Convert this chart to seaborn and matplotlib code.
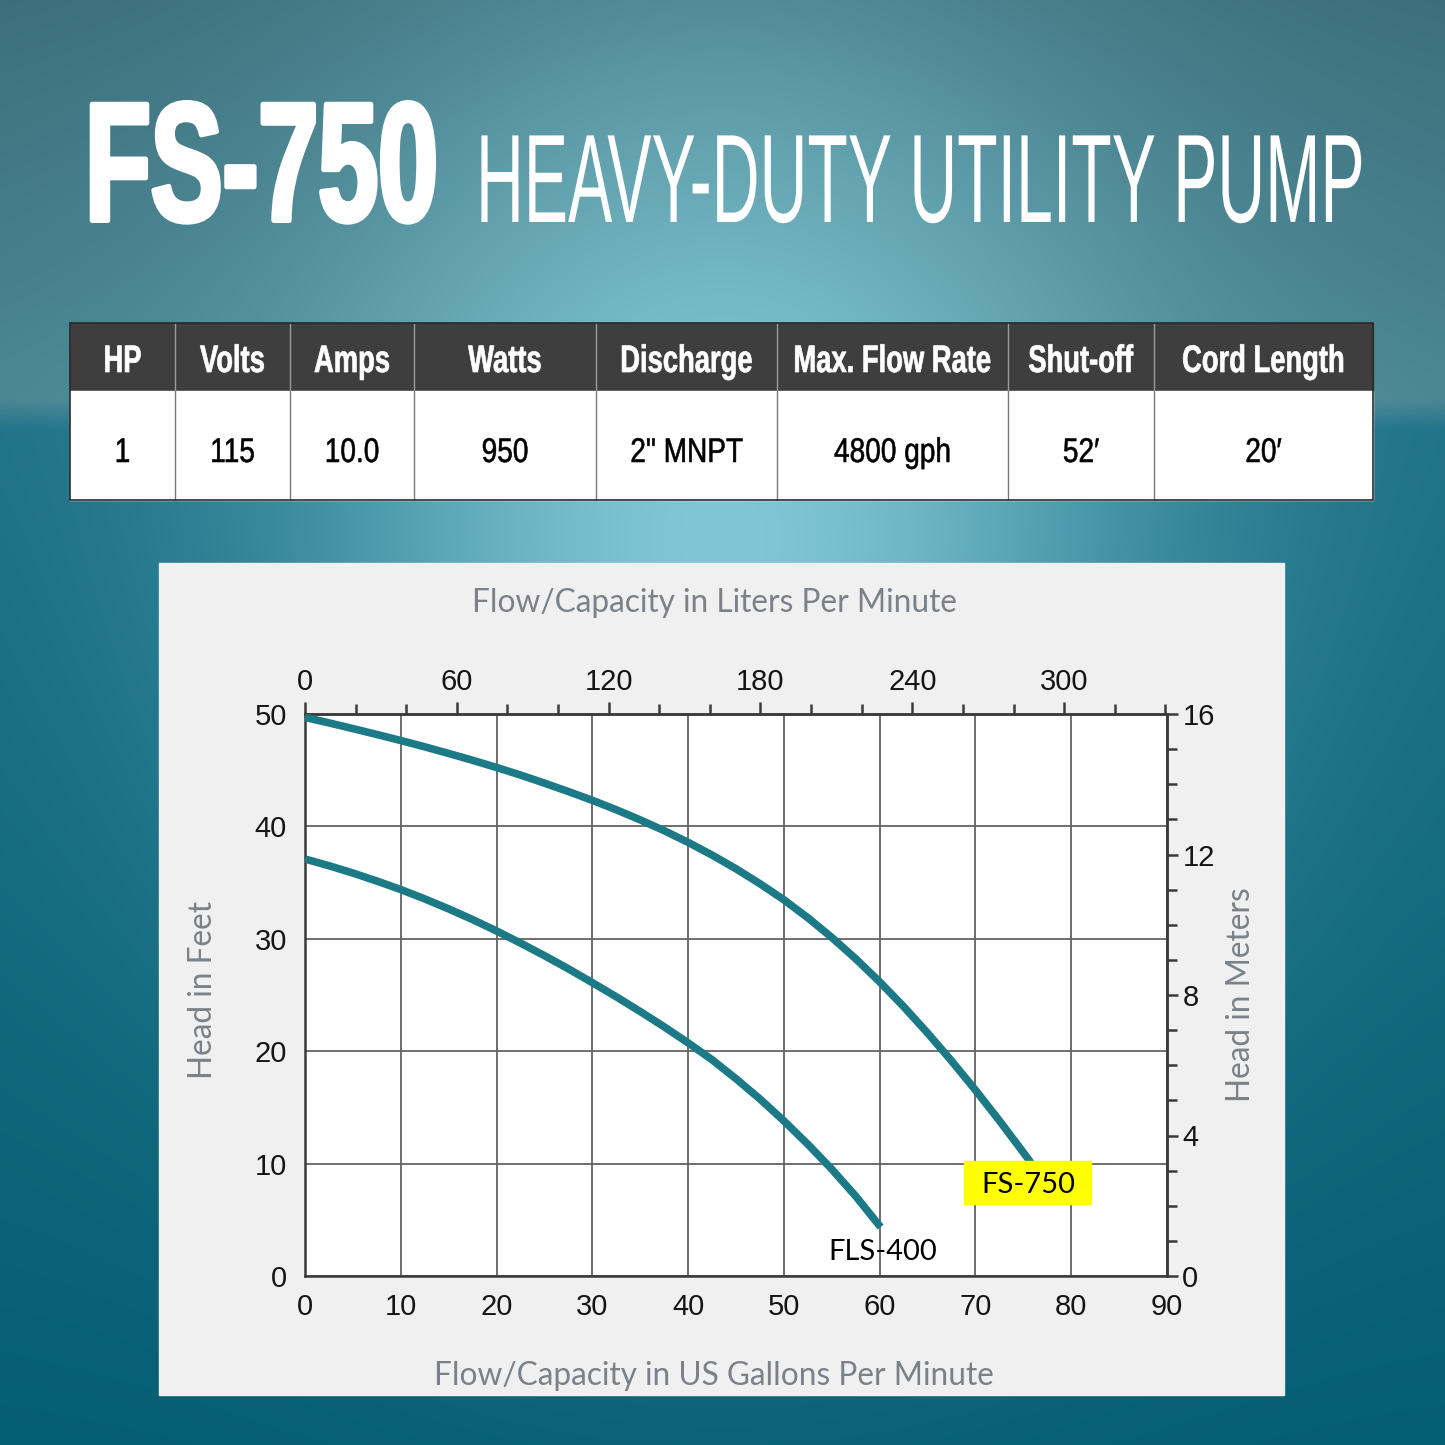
import numpy as np
import pandas as pd
import matplotlib
matplotlib.use("Agg")
import matplotlib.pyplot as plt
import matplotlib.patheffects as pe
from matplotlib.patches import Rectangle
from matplotlib.transforms import Affine2D
from matplotlib.ticker import MultipleLocator
import seaborn as sns

# --------------------------------------------------------------
# Data
# --------------------------------------------------------------
spec_headers = ["HP", "Volts", "Amps", "Watts", "Discharge", "Max. Flow Rate", "Shut-off", "Cord Length"]
spec_values = ["1", "115", "10.0", "950", '2" MNPT', "4800 gph", "52\u2032", "20\u2032"]

# pump curves (US gpm vs head in feet)
gpm_fs750 = [0, 2.5, 5, 7.5, 10, 12.5, 15, 17.5, 20, 22.5, 25, 27.5, 30, 32.5, 35, 37.5,
             40, 42.5, 45, 47.5, 50, 52.5, 55, 57.5, 60, 62.5, 65, 67.5, 70, 72.5, 75, 75.8]
head_fs750 = [49.7, 49.21, 48.70, 48.18, 47.64, 47.08, 46.49, 45.88, 45.24, 44.57, 43.85, 43.10,
              42.32, 41.48, 40.58, 39.62, 38.58, 37.45, 36.23, 34.90, 33.47, 31.87, 30.12, 28.22,
              26.17, 23.97, 21.62, 19.14, 16.54, 13.82, 10.99, 10.07]

gpm_fls400 = [0, 2.5, 5, 7.5, 10, 12.5, 15, 17.5, 20, 22.5, 25, 27.5, 30, 32.5, 35, 37.5,
              40, 42.5, 45, 47.5, 50, 52.5, 55, 57.5, 60.1]
head_fls400 = [37.1, 36.50, 35.85, 35.14, 34.38, 33.55, 32.66, 31.71, 30.70, 29.62, 28.50, 27.33,
               26.10, 24.84, 23.53, 22.17, 20.74, 19.24, 17.55, 15.75, 13.8, 11.72, 9.5, 7.1, 4.35]

gpm_ticks = list(range(0, 91, 10))
feet_ticks = list(range(0, 51, 10))
lpm_ticks = [0, 60, 120, 180, 240, 300]
meter_ticks = [0, 4, 8, 12, 16]

TEAL = "#1b7a86"
GRAY_TXT = "#7c8187"
SANS = ["Liberation Sans", "DejaVu Sans"]
HUMAN = ["Lato", "DejaVu Sans"]


class Stretch(pe.AbstractPathEffect):
    """Scale text glyphs about their baseline (condensed look), optional bolder stroke."""

    def __init__(self, sx=1.0, sy=1.0, anchor="center", stroke=0):
        super().__init__()
        self.sx, self.sy, self.anchor, self.stroke = sx, sy, anchor, stroke

    def draw_path(self, renderer, gc, tpath, affine, rgbFace=None):
        ext = tpath.transformed(affine).get_extents()
        x0 = ext.x0 if self.anchor == "left" else 0.5 * (ext.x0 + ext.x1)
        yb = affine.transform([[0.0, 0.0]])[0][1]
        aff = affine + Affine2D().translate(-x0, -yb).scale(self.sx, self.sy).translate(x0, yb)
        gc0 = renderer.new_gc()
        gc0.copy_properties(gc)
        if self.stroke:
            gc0.set_linewidth(self.stroke)
            gc0.set_foreground(rgbFace)
            gc0.set_joinstyle("round")
        renderer.draw_path(gc0, tpath, aff, rgbFace)
        gc0.restore()


sns.set_style("white")
plt.rcParams["font.family"] = SANS

W = H = 1445
fig = plt.figure(figsize=(14.45, 14.45), dpi=100)

# background in pixel coordinates (y down)
bg = fig.add_axes([0, 0, 1, 1])
bg.set_xlim(0, W)
bg.set_ylim(H, 0)
bg.axis("off")

yy, xx = np.mgrid[0:H, 0:W].astype(float)
stops = [0, 400, 430, 1445]
base = np.stack([np.interp(yy, stops, c) for c in ([60, 72, 28, 4], [110, 132, 112, 94], [122, 145, 133, 116])], -1)
glow = np.exp(-(((xx - 722) / 420) ** 2 + ((yy - 540) / 520) ** 2))[..., None]
img = base * (1 - glow) + np.array([128, 198, 212]) * glow
bg.imshow(img.astype(np.uint8), extent=(0, W, H, 0), aspect="auto", zorder=0)

# title
bg.text(85, 220.5, "FS-750", color="white", fontsize=77.5, fontweight="bold", family=SANS,
        ha="left", va="baseline", path_effects=[Stretch(1.0, 1.57, "left", stroke=3.6)])
bg.text(476, 222, "HEAVY-DUTY UTILITY PUMP", color="white", fontsize=47.7, family=SANS,
        ha="left", va="baseline", path_effects=[Stretch(1.0, 1.9, "left")])

# spec table
col_edges = [70, 175, 290, 414, 596, 777, 1008, 1154, 1373]
top, mid, bot = 323, 391, 500
bg.add_patch(Rectangle((col_edges[0], top), col_edges[-1] - col_edges[0], mid - top, color="#3e3e3e", zorder=2))
bg.add_patch(Rectangle((col_edges[0], mid), col_edges[-1] - col_edges[0], bot - mid, color="white", zorder=2))
bg.add_patch(Rectangle((col_edges[0], top), col_edges[-1] - col_edges[0], bot - top, fill=False,
                       ec="#2a2a2a", lw=1.2, zorder=4))
for i, (hd, val) in enumerate(zip(spec_headers, spec_values)):
    cx = 0.5 * (col_edges[i] + col_edges[i + 1])
    if i > 0:
        bg.plot([col_edges[i]] * 2, [top, mid], color="#9a9a9a", lw=1.0, zorder=3)
        bg.plot([col_edges[i]] * 2, [mid, bot], color="#7a7a7a", lw=1.0, zorder=3)
    bg.text(cx, 372, hd, color="white", fontsize=19.7, fontweight="bold", family=SANS,
            ha="center", va="baseline", zorder=5, path_effects=[Stretch(1.0, 1.4, stroke=0.5)])
    bg.text(cx, 462, val, color="black", fontsize=20.2, family=SANS,
            ha="center", va="baseline", zorder=5, path_effects=[Stretch(1.0, 1.22, stroke=0.4)])

# chart panel
bg.add_patch(Rectangle((159, 563), 1125, 832, color="#f0f0f0", zorder=2))
bg.text(714, 612, "Flow/Capacity in Liters Per Minute", color=GRAY_TXT, fontsize=22.8,
        family=HUMAN, ha="center", va="baseline", zorder=5)
bg.text(714, 1385, "Flow/Capacity in US Gallons Per Minute", color=GRAY_TXT, fontsize=22.8,
        family=HUMAN, ha="center", va="baseline", zorder=5)
bg.text(203, 990, "Head in Feet", color=GRAY_TXT, fontsize=22.8, family=HUMAN,
        rotation=90, ha="center", va="center", zorder=5)
bg.text(1241, 995, "Head in Meters", color=GRAY_TXT, fontsize=22.8, family=HUMAN,
        rotation=90, ha="center", va="center", zorder=5)

# --------------------------------------------------------------
# Pump curves
# --------------------------------------------------------------
curves = pd.concat([
    pd.DataFrame({"gpm": gpm_fs750, "head": head_fs750, "model": "FS-750"}),
    pd.DataFrame({"gpm": gpm_fls400, "head": head_fls400, "model": "FLS-400"}),
])

ax = fig.add_axes([305 / W, 1 - 1276 / H, 862 / W, 562 / H])
ax.set_facecolor("white")
sns.lineplot(data=curves, x="gpm", y="head", hue="model", units="model", estimator=None,
             palette={"FS-750": TEAL, "FLS-400": TEAL}, linewidth=5.5, legend=False,
             ax=ax, zorder=3, solid_capstyle="butt", solid_joinstyle="round")

ax.set_xlim(0, 90)
ax.set_ylim(0, 50)
ax.set_xticks(gpm_ticks)
ax.set_yticks(feet_ticks)
ax.xaxis.set_minor_locator(MultipleLocator(5))
ax.yaxis.set_minor_locator(MultipleLocator(5))
ax.grid(True, which="major", color="#626262", lw=1.3)
ax.set_xlabel("")
ax.set_ylabel("")
for s in ax.spines.values():
    s.set_color("#3a3a3a")
    s.set_linewidth(1.8)
ax.tick_params(which="both", direction="out", color="#3a3a3a", width=1.8,
               labelsize=21, labelcolor="#151515")
ax.tick_params(which="major", length=8)
ax.tick_params(which="minor", length=7)
ax.tick_params(axis="x", pad=4)
ax.tick_params(axis="y", pad=5)

lpm = ax.secondary_xaxis("top", functions=(lambda g: g * 3.785, lambda l: l / 3.785))
lpm.set_xticks(lpm_ticks)
lpm.xaxis.set_minor_locator(MultipleLocator(20))
lpm.tick_params(which="both", direction="out", color="#3a3a3a", width=1.8,
                labelsize=21, labelcolor="#151515", pad=4)
lpm.tick_params(which="major", length=9)
lpm.tick_params(which="minor", length=7)
lpm.spines["top"].set_linewidth(1.8)
lpm.spines["top"].set_color("#3a3a3a")

meters = ax.secondary_yaxis("right", functions=(lambda f: f * 16 / 50, lambda m: m * 50 / 16))
meters.set_yticks(meter_ticks)
meters.yaxis.set_minor_locator(MultipleLocator(1))
meters.tick_params(which="both", direction="out", color="#3a3a3a", width=1.8,
                   labelsize=21, labelcolor="#151515", pad=3)
meters.tick_params(which="major", length=8)
meters.tick_params(which="minor", length=7)
meters.spines["right"].set_linewidth(1.8)
meters.spines["right"].set_color("#3a3a3a")

# curve labels
ax.add_patch(Rectangle((68.8, 6.4), 13.3, 3.8, color="#ffff00", zorder=4, clip_on=False))
ax.text(75.5, 8.1, "FS-750", fontsize=21, family=HUMAN, color="black",
        ha="center", va="center", zorder=5)
ax.text(60.3, 2.15, "FLS-400", fontsize=21, family=HUMAN, color="black",
        ha="center", va="center", zorder=5)

plt.savefig("out.png", dpi=100)
plt.close()
print("Saved: out.png")
